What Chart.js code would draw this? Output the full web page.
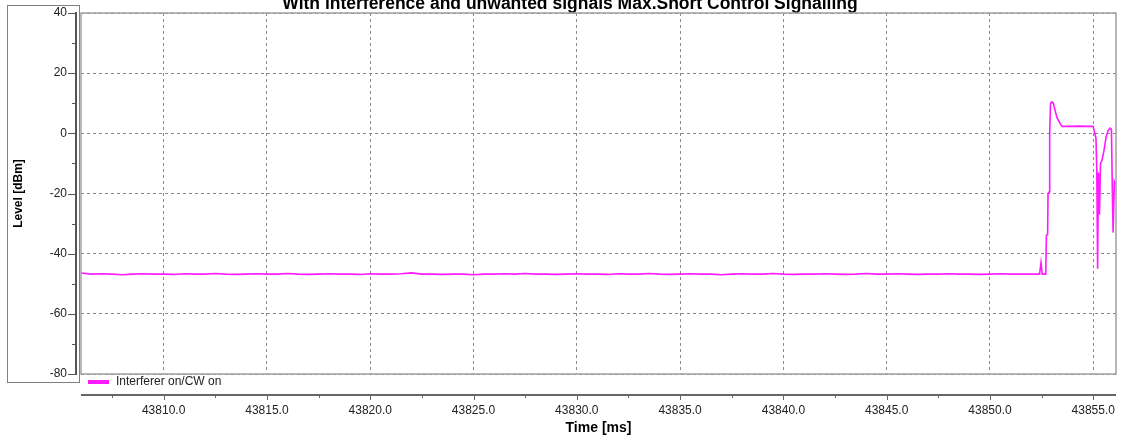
<!DOCTYPE html>
<html>
<head>
<meta charset="utf-8">
<title>Level vs time</title>
<script src="https://cdn.jsdelivr.net/npm/chart.js@4.4.1/dist/chart.umd.min.js"></script>
<style>
  html, body { margin: 0; padding: 0; background: #fff; }
</style>
</head>
<body>
<canvas id="levelChart" width="1122" height="438"></canvas>
<script>
// titles / labels
const chartTitle  = "With interference and unwanted signals Max.Short Control Signalling";
const seriesLabel = "Interferer on/CW on";
const xTitle = "Time [ms]";
const yTitle = "Level [dBm]";

// axis ticks
const xTicks = [43810, 43815, 43820, 43825, 43830, 43835, 43840, 43845, 43850, 43855];
const yTicks = [40, 20, 0, -20, -40, -60, -80];
const xMin = 43806, xMax = 43856.1;

// flat part: one sample every 0.5 ms starting at 43806.0
const flatStart = 43806.0;
const flatStep  = 0.5;
const flatLevels = [
  -46.4, -46.8, -46.7, -46.8, -47.0, -46.8, -46.7, -46.8, -46.8, -46.9,
  -46.7, -46.8, -46.8, -46.6, -46.8, -46.9, -46.8, -46.7, -46.8, -46.8,
  -46.6, -46.8, -46.9, -46.8, -46.7, -46.8, -46.8, -46.9, -46.7, -46.8,
  -46.8, -46.7, -46.4, -46.8, -46.8, -46.9, -46.8, -46.8, -47.0, -46.8,
  -46.8, -46.7, -46.8, -46.6, -46.8, -46.8, -46.9, -46.8, -46.7, -46.8,
  -46.8, -46.9, -46.7, -46.8, -46.8, -46.6, -46.8, -46.9, -46.8, -46.7,
  -46.8, -46.8, -47.0, -46.8, -46.7, -46.8, -46.8, -46.6, -46.8, -46.9,
  -46.8, -46.8, -46.7, -46.8, -46.9, -46.8, -46.6, -46.8, -46.8, -46.7,
  -46.8, -46.9, -46.8, -46.8, -46.7, -46.8, -46.8, -46.9, -46.8, -46.7,
  -46.8, -46.8, -46.8
];

// burst at the end (explicit samples)
const tailTimes = [
  43852.25, 43852.40, 43852.47, 43852.53, 43852.70, 43852.73, 43852.79, 43852.81,
  43852.86, 43852.89, 43852.93, 43852.98, 43853.06, 43853.10, 43853.24, 43853.39,
  43853.49, 43853.90, 43854.30, 43854.70, 43854.99, 43855.04, 43855.13, 43855.17,
  43855.21, 43855.25, 43855.30, 43855.35, 43855.42, 43855.52, 43855.62, 43855.72,
  43855.82, 43855.88, 43855.92, 43855.96, 43856.02, 43856.08
];
const tailLevels = [
  -46.8, -46.8, -43.0, -46.8, -46.8, -34.0, -33.5, -20.0,
  -19.5, 0.0, 9.8, 10.4, 10.2, 9.0, 5.3, 3.3,
  2.3, 2.3, 2.4, 2.3, 2.3, 1.0, -1.7, -12.0,
  -45.0, -13.0, -27.0, -10.0, -9.0, -5.7, -1.3, 1.0,
  1.7, 1.3, -18.0, -33.0, -16.0, -17.0
];

const lineColor = "#ff1aff";
const FONT = "'Liberation Sans', Arial, Helvetica, sans-serif";

// build points
const points = flatLevels.map((v, i) => ({ x: flatStart + i * flatStep, y: v }))
  .concat(tailTimes.map((t, i) => ({ x: t, y: tailLevels[i] })));

// no extra label padding from the scales, the layout padding decides
const noPad = s => { s.paddingLeft = 0; s.paddingRight = 0; s.paddingTop = 0; s.paddingBottom = 0; };

// axes decorations, legend, frame and (clipped) title
const decor = {
  id: "decor",
  afterDraw(chart) {
    const { ctx, chartArea: a, scales: { x, y } } = chart;
    const ln = (x1, y1, x2, y2) => { ctx.beginPath(); ctx.moveTo(x1, y1); ctx.lineTo(x2, y2); ctx.stroke(); };
    ctx.save();

    // title, cut at the top edge
    ctx.font = `bold 17.5px ${FONT}`;
    ctx.fillStyle = "#000";
    ctx.textAlign = "center";
    ctx.textBaseline = "alphabetic";
    ctx.fillText(chartTitle, chart.width / 2 + 9, a.top - 4);

    // plot frame
    ctx.strokeStyle = "#a0a0a0";
    ctx.lineWidth = 1.5;
    ctx.strokeRect(a.left, a.top, a.right - a.left, a.bottom - a.top);

    // y axis line + ticks
    const yx = a.left - 5;
    ctx.strokeStyle = "#555";
    ctx.lineWidth = 2;
    ln(yx, a.top - 1, yx, a.bottom + 1);
    ctx.lineWidth = 1;
    yTicks.forEach((v, i) => {
      const py = Math.round(y.getPixelForValue(v)) + 0.5;
      ln(yx - 8, py, yx, py);
      if (i < yTicks.length - 1) {
        const my = Math.round(y.getPixelForValue((v + yTicks[i + 1]) / 2)) + 0.5;
        ln(yx - 4, my, yx, my);
      }
    });

    // x axis line (below the legend) + ticks
    const xy = a.bottom + 21;
    ctx.strokeStyle = "#666";
    ctx.lineWidth = 2;
    ln(a.left, xy, a.right, xy);
    ctx.lineWidth = 1;
    const minors = [xTicks[0] - 2.5].concat(xTicks.map(v => v + 2.5));
    xTicks.forEach(v => {
      const px = Math.round(x.getPixelForValue(v)) + 0.5;
      ln(px, xy, px, xy + 5);
    });
    minors.forEach(v => {
      if (v < xMin || v > xMax) return;
      const px = Math.round(x.getPixelForValue(v)) + 0.5;
      ln(px, xy, px, xy + 3);
    });

    // legend
    const ly = a.bottom + 8;
    ctx.strokeStyle = lineColor;
    ctx.lineWidth = 4;
    ln(a.left + 7, ly, a.left + 28, ly);
    ctx.font = `12px ${FONT}`;
    ctx.fillStyle = "#222";
    ctx.textAlign = "left";
    ctx.textBaseline = "middle";
    ctx.fillText(seriesLabel, a.left + 35, ly);

    // dotted selection box round the y axis
    ctx.strokeStyle = "#000";
    ctx.lineWidth = 1;
    ctx.setLineDash([1, 1]);
    ctx.strokeRect(7.5, a.top - 7.5, a.left - 9, a.bottom - a.top + 16);

    ctx.restore();
  }
};

new Chart(document.getElementById("levelChart"), {
  type: "line",
  data: {
    datasets: [{
      label: seriesLabel,
      data: points,
      borderColor: lineColor,
      backgroundColor: lineColor,
      borderWidth: 1.6,
      pointRadius: 0,
      tension: 0,
      fill: false
    }]
  },
  options: {
    responsive: false,
    animation: false,
    events: [],
    layout: { padding: { top: 13, right: 6, bottom: 0, left: 0 } },
    plugins: {
      legend: { display: false },
      title: { display: false },
      tooltip: { enabled: false }
    },
    scales: {
      x: {
        type: "linear",
        min: xMin,
        max: xMax,
        afterBuildTicks: s => { s.ticks = xTicks.map(v => ({ value: v })); },
        afterFit: s => { s.height = 64; noPad(s); },
        grid: { color: "#8a8a8a", lineWidth: 1, drawTicks: false },
        border: { display: false, dash: [3, 3] },
        ticks: {
          padding: 29,
          maxRotation: 0,
          color: "#222",
          font: { family: FONT, size: 12 },
          callback: v => Number(v).toFixed(1)
        },
        title: {
          display: true,
          text: xTitle,
          color: "#000",
          font: { family: FONT, size: 14, weight: "bold" },
          padding: { top: 0, bottom: 1 }
        }
      },
      y: {
        min: -80,
        max: 40,
        afterBuildTicks: s => { s.ticks = yTicks.map(v => ({ value: v })); },
        afterFit: s => { s.width = 81; noPad(s); },
        grid: { color: "#8a8a8a", lineWidth: 1, drawTicks: false },
        border: { display: false, dash: [3, 3] },
        ticks: {
          padding: 14,
          color: "#222",
          font: { family: FONT, size: 12 },
          callback: v => String(v)
        },
        title: {
          display: true,
          text: yTitle,
          color: "#000",
          font: { family: FONT, size: 12, weight: "bold" },
          padding: { top: 11, bottom: 0 }
        }
      }
    }
  },
  plugins: [decor]
});
</script>
</body>
</html>
